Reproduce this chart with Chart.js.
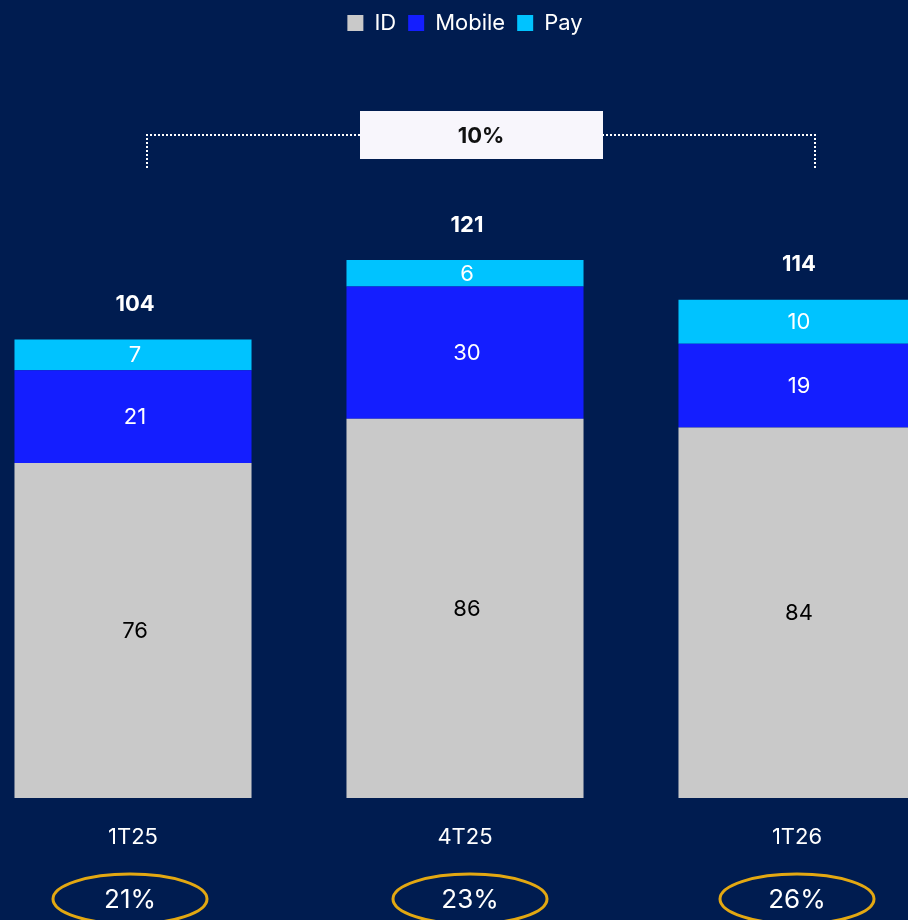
<!DOCTYPE html>
<html>
<head>
<meta charset="utf-8">
<script src="https://cdn.jsdelivr.net/npm/chart.js@4"></script>
<style>
    html, body { margin: 0; padding: 0; background: #001C50; width: 908px; height: 920px; overflow: hidden; }
    #wrap { position: absolute; left: -33px; top: 0; width: 996px; height: 920px; }
</style>
</head>
<body>
<div id="wrap"><canvas id="revenueChart"></canvas></div>
<script>
const periods = ['1T25', '4T25', '1T26'];
const idValues = [76, 86, 84];
const mobileValues = [21, 30, 19];
const payValues = [7, 6, 10];
const totals = [104, 121, 114];
const shares = ['21%', '23%', '26%'];
const growthLabel = '10%';

const FONT = 'Inter, "Open Sans", sans-serif';
// small nudges of the share ellipses relative to the bar centres
const shareShift = [-3, 5, 0];

// labels inside the segments + totals above the stacks
const valueLabels = {
    id: 'valueLabels',
    afterDatasetsDraw(chart) {
        const ctx = chart.ctx;
        ctx.save();
        ctx.textAlign = 'center';
        ctx.textBaseline = 'middle';
        chart.data.datasets.forEach((ds, di) => {
            const meta = chart.getDatasetMeta(di);
            meta.data.forEach((bar, i) => {
                const mid = (bar.y + bar.base) / 2;
                ctx.font = '400 22px ' + FONT;
                ctx.fillStyle = di === 0 ? '#000000' : '#FFFFFF';
                ctx.fillText(ds.data[i], bar.x + 2, mid + 1);
            });
        });
        const top = chart.getDatasetMeta(chart.data.datasets.length - 1);
        ctx.font = '700 22px ' + FONT;
        ctx.fillStyle = '#FFFFFF';
        top.data.forEach((bar, i) => {
            ctx.fillText(totals[i], bar.x + 2, bar.y - 35);
        });
        ctx.restore();
    }
};

// growth bracket + share ellipses
const annotations = {
    id: 'annotations',
    afterDraw(chart) {
        const ctx = chart.ctx;
        const x = chart.scales.x;
        const x1 = x.getPixelForValue(0) + 14;
        const x2 = x.getPixelForValue(periods.length - 1) + 18;
        const yLine = 135;
        ctx.save();
        ctx.strokeStyle = '#FFFFFF';
        ctx.lineWidth = 2;
        ctx.setLineDash([2, 2]);
        ctx.beginPath();
        ctx.moveTo(x1, 168);
        ctx.lineTo(x1, yLine);
        ctx.lineTo(x2, yLine);
        ctx.lineTo(x2, 168);
        ctx.stroke();
        ctx.setLineDash([]);
        const cx = (x1 + x2) / 2;
        ctx.fillStyle = '#F8F6FC';
        ctx.fillRect(cx - 121, 111, 243, 48);
        ctx.fillStyle = '#111111';
        ctx.font = '700 22px ' + FONT;
        ctx.textAlign = 'center';
        ctx.textBaseline = 'middle';
        ctx.fillText(growthLabel, cx, 136);

        shares.forEach((s, i) => {
            const px = x.getPixelForValue(i) + shareShift[i];
            ctx.beginPath();
            ctx.ellipse(px, 899, 77, 25, 0, 0, Math.PI * 2);
            ctx.strokeStyle = '#E3A812';
            ctx.lineWidth = 3;
            ctx.stroke();
            ctx.fillStyle = '#FFFFFF';
            ctx.font = '400 26px ' + FONT;
            ctx.fillText(s, px, 900);
        });
        ctx.restore();
    }
};

new Chart(document.getElementById('revenueChart'), {
    type: 'bar',
    data: {
        labels: periods,
        datasets: [
            { label: 'ID', data: idValues, backgroundColor: '#C9C9C9', borderWidth: 0 },
            { label: 'Mobile', data: mobileValues, backgroundColor: '#141EFF', borderWidth: 0 },
            { label: 'Pay', data: payValues, backgroundColor: '#00C3FF', borderWidth: 0 }
        ]
    },
    options: {
        responsive: true,
        maintainAspectRatio: false,
        animation: false,
        categoryPercentage: 1,
        barPercentage: 0.714,
        layout: { padding: { top: 0, bottom: 43.6, left: 0, right: 0 } },
        plugins: {
            legend: {
                position: 'top',
                labels: {
                    color: '#FFFFFF',
                    font: { family: FONT, size: 22 },
                    boxWidth: 16,
                    boxHeight: 16,
                    padding: 12
                }
            },
            tooltip: { enabled: false }
        },
        scales: {
            x: {
                stacked: true,
                grid: { display: false, drawTicks: false },
                border: { display: false },
                ticks: { color: '#FFFFFF', font: { family: FONT, size: 22 }, padding: 26 }
            },
            y: {
                stacked: true,
                display: false,
                min: 0,
                max: 171
            }
        }
    },
    plugins: [valueLabels, annotations]
});
</script>
</body>
</html>
